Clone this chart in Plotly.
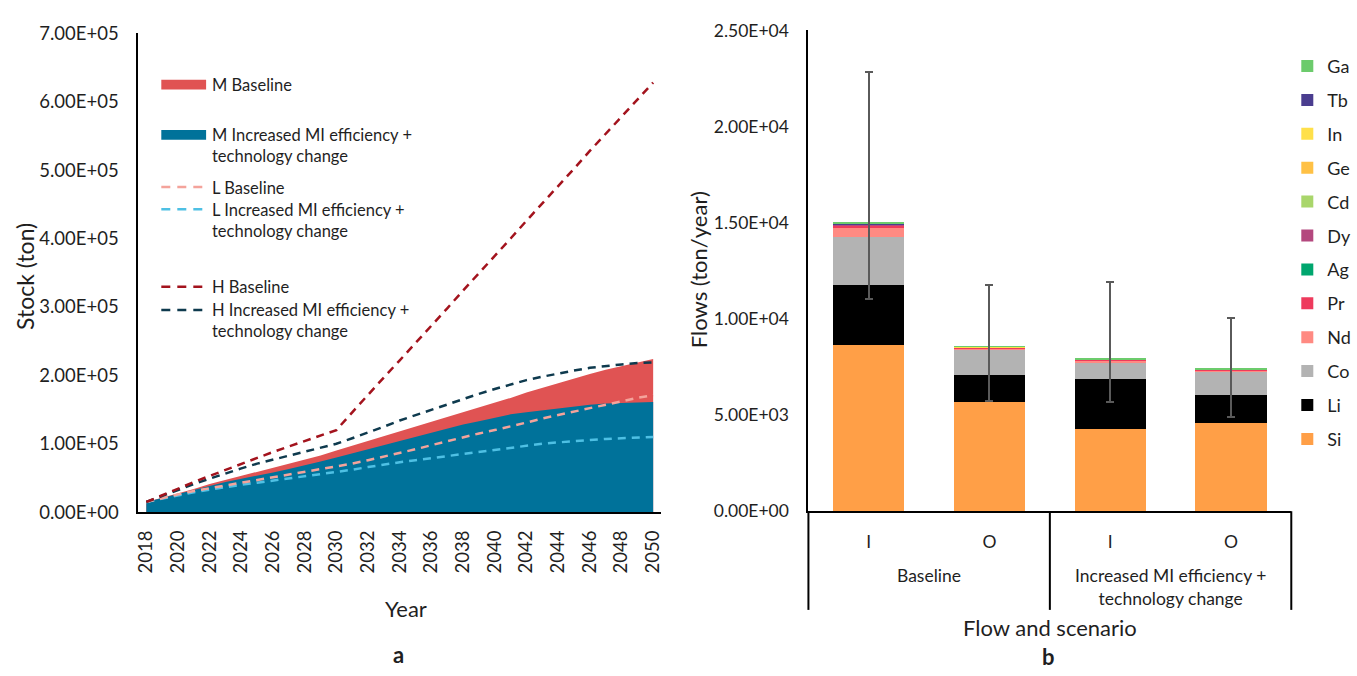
import plotly.graph_objects as go

# ---------------- data: stock of materials (ton) ----------------
years = [2018, 2019, 2020, 2021, 2022, 2023, 2024, 2025, 2026, 2027, 2028,
         2029, 2030, 2031, 2032, 2033, 2034, 2035, 2036, 2037, 2038, 2039,
         2040, 2041, 2042, 2043, 2044, 2045, 2046, 2047, 2048, 2049, 2050]

m_baseline = [15000, 21000, 27000, 34000, 41000, 47000, 53000, 58000, 64000, 70000,
              76000, 83000, 90000, 97000, 103000, 110000, 118000, 125000, 132000, 139000,
              146000, 153000, 160000, 167000, 175000, 182000, 189000, 196000, 202000, 208000,
              213000, 219000, 224000]
m_increased = [15000, 21000, 27000, 33000, 39000, 44000, 49000, 53000, 58000, 63000,
               68000, 74000, 80000, 86000, 92000, 98000, 104000, 110000, 117000, 123000,
               128000, 133000, 138000, 143000, 146000, 149000, 152000, 155000, 157000, 159000,
               160000, 161000, 161000]
l_baseline = [15000, 21000, 26000, 31000, 35000, 39000, 42000, 46000, 50000, 54000,
              58000, 62000, 66000, 71000, 76000, 81000, 86000, 92000, 98000, 104000,
              110000, 115000, 120000, 125000, 131000, 137000, 142000, 148000, 153000, 158000,
              163000, 167000, 171000]
l_increased = [15000, 20000, 25000, 29000, 33000, 37000, 40000, 43000, 46000, 49000,
               52000, 55000, 58000, 62000, 66000, 70000, 73000, 76000, 79000, 83000,
               86000, 89000, 92000, 95000, 98000, 100000, 102000, 104000, 105000, 107000,
               108000, 109000, 110000]
h_baseline = [15000, 25000, 35000, 44000, 53000, 62000, 71000, 79000, 88000, 96000,
              104000, 112000, 120000, 146000, 172000, 197000, 222000, 247000, 273000, 298000,
              324000, 349000, 375000, 400000, 426000, 451000, 477000, 502000, 528000, 553000,
              578000, 603000, 628000]
h_increased = [15000, 24000, 33000, 41000, 49000, 57000, 64000, 71000, 77000, 83000,
               88000, 94000, 100000, 108000, 116000, 125000, 134000, 142000, 150000, 158000,
               166000, 173000, 180000, 187000, 193000, 198000, 203000, 207000, 211000, 214000,
               216000, 218000, 219000]

stock_ticks = [0, 100000, 200000, 300000, 400000, 500000, 600000, 700000]
year_ticks = [2018, 2020, 2022, 2024, 2026, 2028, 2030, 2032, 2034, 2036, 2038,
              2040, 2042, 2044, 2046, 2048, 2050]

# ---------------- data: flows by element (ton/year) ----------------
flow_labels = ["I", "O", "I", "O"]
scenarios = ["Baseline", "Increased MI efficiency +<br>technology change"]
elements = ["Si", "Li", "Co", "Nd", "Pr", "Ag", "Dy", "Cd", "Ge", "In", "Tb", "Ga"]
flows = {
    "Si": [8660, 5690, 4300, 4610],
    "Li": [3080, 1385, 2590, 1425],
    "Co": [2510, 1320, 840, 1210],
    "Nd": [500, 60, 100, 70],
    "Pr": [70, 15, 15, 10],
    "Ag": [40, 25, 15, 15],
    "Dy": [15, 5, 5, 5],
    "Cd": [15, 10, 5, 5],
    "Ge": [10, 5, 5, 5],
    "In": [10, 5, 5, 5],
    "Tb": [25, 5, 5, 5],
    "Ga": [50, 15, 15, 15],
}
flow_upper = [22850, 11750, 11900, 10070]
flow_lower = [11050, 5730, 5700, 4920]
flow_ticks = [0, 5000, 10000, 15000, 20000, 25000]

# ---------------- styling ----------------
W, H = 1357, 676
FONT = "Lato, 'Open Sans', sans-serif"
TXT = "#1f1f1f"

RED_AREA = "#E05353"
TEAL_AREA = "#00729A"
PINK = "#F4A39B"
SKY = "#4EC0E4"
DARK_RED = "#A3131D"
NAVY = "#0E3A4E"

element_colors = {
    "Si": "#FF9F47", "Li": "#000000", "Co": "#B3B3B3", "Nd": "#FF8A82",
    "Pr": "#EE3A5C", "Ag": "#00A66E", "Dy": "#B4487E", "Cd": "#A9D66B",
    "Ge": "#FFC145", "In": "#FFE04A", "Tb": "#4A3D8F", "Ga": "#6CCB6C",
}


def fx(p):
    return p / W


def fy(p):
    return 1 - p / H


def sci(v):
    return f"{v:.2E}"


fig = go.Figure()

# ---- panel a: stock areas and scenario lines ----
fig.add_trace(go.Scatter(x=years, y=m_baseline, mode="lines", name="M Baseline",
                         line=dict(width=0, color=RED_AREA), fill="tozeroy",
                         fillcolor=RED_AREA, showlegend=False, xaxis="x", yaxis="y"))
fig.add_trace(go.Scatter(x=years, y=m_increased, mode="lines",
                         name="M Increased MI efficiency + technology change",
                         line=dict(width=0, color=TEAL_AREA), fill="tozeroy",
                         fillcolor=TEAL_AREA, showlegend=False, xaxis="x", yaxis="y"))

dash = "8px,6px"
for vals, col, nm in [(l_increased, SKY, "L Increased MI efficiency + technology change"),
                      (l_baseline, PINK, "L Baseline"),
                      (h_increased, NAVY, "H Increased MI efficiency + technology change"),
                      (h_baseline, DARK_RED, "H Baseline")]:
    fig.add_trace(go.Scatter(x=years, y=vals, mode="lines", name=nm,
                             line=dict(width=2.5, color=col, dash=dash),
                             showlegend=False, xaxis="x", yaxis="y"))

# ---- panel b: stacked element flows ----
xpos = [0, 1, 2, 3]
totals = [sum(flows[e][i] for e in elements) for i in range(4)]
for k, e in enumerate(elements):
    err = None
    if e == elements[-1]:
        err = dict(type="data", symmetric=False,
                   array=[u - t for u, t in zip(flow_upper, totals)],
                   arrayminus=[t - l for t, l in zip(totals, flow_lower)],
                   color="#5a5a5a", thickness=2, width=4)
    fig.add_trace(go.Bar(x=xpos, y=flows[e], name=e, width=0.59,
                         marker=dict(color=element_colors[e], line=dict(width=0)),
                         error_y=err, legend="legend2", legendgroup=e,
                         legendrank=100 - k,
                         xaxis="x2", yaxis="y2"))

axis_common = dict(showgrid=False, zeroline=False, showline=True, linecolor="#000000",
                   linewidth=2, ticks="")
left_tick_font = dict(family=FONT, size=18.5, color=TXT)
right_tick_font = dict(family=FONT, size=17.5, color=TXT)

fig.update_layout(
    width=W, height=H, autosize=False,
    margin=dict(l=0, r=0, t=0, b=0),
    paper_bgcolor="white", plot_bgcolor="white",
    font=dict(family=FONT, color=TXT),
    barmode="stack", bargap=0.41,
    showlegend=True,
    xaxis=dict(axis_common, domain=[fx(135), fx(660)], range=[2017.5, 2050.5],
               tickvals=year_ticks, ticktext=[str(y) for y in year_ticks],
               tickangle=-90, ticklabelstandoff=9, tickfont=left_tick_font, anchor="y"),
    yaxis=dict(axis_common, domain=[fy(517), fy(22)], range=[0, 700000],
               tickvals=stock_ticks, ticktext=[sci(v) for v in stock_ticks],
               ticklabelstandoff=14, tickfont=left_tick_font, anchor="x"),
    xaxis2=dict(axis_common, domain=[fx(808), fx(1293)], range=[-0.5, 3.5],
                tickvals=xpos, ticktext=flow_labels, ticklabelstandoff=14,
                tickfont=right_tick_font, anchor="y2"),
    yaxis2=dict(axis_common, domain=[fy(516), fy(19)], range=[0, 25000],
                tickvals=flow_ticks, ticktext=[sci(v) for v in flow_ticks],
                ticklabelstandoff=14, tickfont=right_tick_font, anchor="x2"),
    legend2=dict(x=fx(1289), y=fy(37), xanchor="left", yanchor="top",
                 traceorder="grouped", tracegroupgap=7.5,
                 bgcolor="rgba(0,0,0,0)", font=dict(family=FONT, size=18, color=TXT)),
)

shapes = []
annotations = []

# panel a legend
legend_items = [
    ("M Baseline", "rect", RED_AREA, 75),
    ("M Increased MI efficiency +<br>technology change", "rect", TEAL_AREA, 127),
    ("L Baseline", "dash", PINK, 181),
    ("L Increased MI efficiency +<br>technology change", "dash", SKY, 204),
    ("H Baseline", "dash", DARK_RED, 284),
    ("H Increased MI efficiency +<br>technology change", "dash", NAVY, 308),
]
for label, kind, col, ypx in legend_items:
    if kind == "rect":
        shapes.append(dict(type="rect", xref="paper", yref="paper",
                           x0=fx(158), x1=fx(203), y0=fy(ypx + 5), y1=fy(ypx - 5),
                           fillcolor=col, line=dict(width=0)))
    else:
        shapes.append(dict(type="line", xref="paper", yref="paper",
                           x0=fx(158), x1=fx(203), y0=fy(ypx), y1=fy(ypx),
                           line=dict(color=col, width=2.5, dash="9px,7px")))
    annotations.append(dict(text=label, xref="paper", yref="paper", x=fx(207),
                            y=fy(ypx - 12), xanchor="left", yanchor="top", align="left",
                            showarrow=False, font=dict(family=FONT, size=16.5, color=TXT)))

# axis titles and panel letters
title_font = dict(family=FONT, size=22, color=TXT)
annotations += [
    dict(text="Stock (ton)", x=fx(21), y=fy(273), textangle=-90,
         font=dict(family=FONT, size=23, color=TXT)),
    dict(text="Year", x=fx(404), y=fy(617), font=title_font),
    dict(text="<b>a</b>", x=fx(396), y=fy(664), font=title_font),
    dict(text="Flows (ton/year)", x=fx(697), y=fy(266), textangle=-90, font=title_font),
    dict(text="Flow and scenario", x=fx(1051), y=fy(636), font=title_font),
    dict(text="<b>b</b>", x=fx(1049), y=fy(666), font=title_font),
]
for a in annotations[-6:]:
    a.update(xref="paper", yref="paper", showarrow=False, xanchor="center", yanchor="middle")

# scenario group labels and dividers under panel b
dom_h = 516 - 19
annotations.append(dict(text=scenarios[0], xref="x2 domain", yref="y2 domain",
                        x=0.25, y=-(582 - 516) / dom_h, xanchor="center", yanchor="middle",
                        showarrow=False, font=dict(family=FONT, size=17.5, color=TXT)))
annotations.append(dict(text=scenarios[1], xref="x2 domain", yref="y2 domain",
                        x=0.75, y=-(594 - 516) / dom_h, xanchor="center", yanchor="middle",
                        showarrow=False, font=dict(family=FONT, size=17.5, color=TXT)))
for xd in [0, 0.5, 1]:
    shapes.append(dict(type="line", xref="x2 domain", yref="y2 domain",
                       x0=xd, x1=xd, y0=0, y1=-(618 - 516) / dom_h,
                       line=dict(color="#000000", width=2)))

fig.update_layout(shapes=shapes, annotations=annotations)

fig.write_html("out.html")
